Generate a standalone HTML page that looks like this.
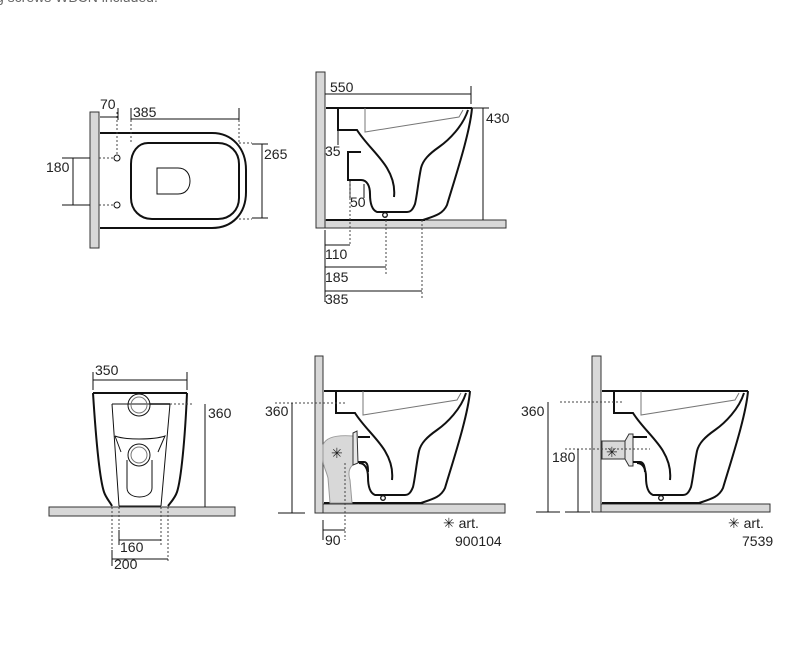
<!DOCTYPE html>
<html><head><meta charset="utf-8"><style>
html,body{margin:0;padding:0;background:#fff;width:810px;height:663px;overflow:hidden}
svg{display:block}
text{font-family:"Liberation Sans",Arial,sans-serif;font-size:14px;fill:#222}
.o{fill:none;stroke:#111;stroke-width:2}
.t{fill:none;stroke:#111;stroke-width:1}
.g{fill:none;stroke:#777;stroke-width:1}
.d{fill:none;stroke:#444;stroke-width:1;stroke-dasharray:2,2}
.w{fill:#d8d8d8;stroke:#333;stroke-width:1}
</style></head><body>
<svg width="810" height="663" viewBox="0 0 810 663" xmlns="http://www.w3.org/2000/svg">
<defs>
<g id="side">
  <path class="o" d="M1,0 H147"/>
  <path class="o" d="M147,0 C145,25 130,70 122,97 C118,106 110,108 98,112"/>
  <path class="o" d="M143,2 C138,18 124,32 114,39 C104,46 98,52 96,60 C93,75 92,88 90,96 C88,101 86,104 82,104 L52,104 C47,102 45,95 45,86 C45,78 42,72 36,72"/>
  <path class="o" d="M13,0 V22 H32 C40,35 55,48 62,60 C68,70 70,80 69,89"/>
  <path class="g" d="M40,0 V24 L134,9 L138,2"/>
  <path class="o" d="M1,112 H100"/>
  <circle cx="60" cy="107" r="2.3" fill="#fff" stroke="#111" stroke-width="1.3"/>
</g>
</defs>

<text x="-4" y="2" style="fill:#666">g screws WBCN included.</text>

<!-- Top-left plan view -->
<rect class="w" x="90" y="112" width="9" height="136"/>
<path class="o" d="M100,133 H212 C232,133 246,148 246,170 V192 C246,214 232,228 212,228 H100"/>
<path class="o" d="M148,143 H218 C230,143 239,152 239,164 V198 C239,210 230,219 218,219 H152 C140,219 131,210 131,198 V164 C131,152 138,143 148,143 Z"/>
<path class="t" d="M157,168 H178 C186,168 190,174 190,181 C190,188 186,194 178,194 H157 Z"/>
<circle cx="117" cy="158" r="3" class="t"/>
<circle cx="117" cy="205" r="3" class="t"/>
<path class="d" d="M117,112 V155 M99,158 H114 M99,205 H114 M131,112 V143 M239,120 V143 M239,143 H252 M239,219 H252"/>
<path class="t" d="M100,117 H118 M118,108 V120 M131,119 H239 M239,108 V120 M131,108 V120"/>
<text x="100" y="109">70</text><text x="133" y="117">385</text>
<path class="t" d="M262,144 V218 M252,144 H268 M252,218 H268"/>
<text x="264" y="159">265</text>
<path class="t" d="M73,158 V205 M62,158 H90 M62,205 H90"/>
<text x="46" y="172">180</text>

<!-- Top-right side view -->
<rect class="w" x="316" y="72" width="9" height="156"/>
<rect class="w" x="325" y="220" width="181" height="8"/>
<use href="#side" x="325" y="108"/>
<path class="o" d="M361,152 H348 V180 H361"/>
<path class="t" d="M325,94 H471 M471,86 V104"/>
<text x="330" y="92">550</text>
<path class="t" d="M483,108 V220 M472,108 H489"/>
<text x="486" y="123">430</text>
<path class="t" d="M338,130 V145"/>
<text x="325" y="156">35</text>
<path class="t" d="M364,184 V198 M350,180 V198"/>
<text x="350" y="207">50</text>
<path class="d" d="M350,182 V245 M386,216 V275 M422,220 V298"/>
<path class="t" d="M325,230 V302 M325,245 H350 M325,267 H386 M325,291 H422"/>
<text x="325" y="259">110</text><text x="325" y="282">185</text><text x="325" y="304">385</text>

<!-- Bottom-left front view -->
<rect class="w" x="49" y="507" width="186" height="9"/>
<path class="o" d="M93,393 H187"/>
<path class="o" d="M93,393 C96,440 100,480 104,492 C106,498 110,502 112,506 M187,393 C185,440 181,480 177,492 C175,498 171,502 168,506"/>
<path class="t" d="M112,404 H170 M112,404 L119,506 M170,404 L161,506 M119,506 H161"/>
<circle cx="139" cy="405" r="11" class="t"/><circle cx="139" cy="405" r="8" class="g"/>
<path class="t" d="M115,436 C125,440 153,440 165,436 L158,452"/>
<path class="t" d="M115,436 L121,452"/>
<circle cx="139" cy="455" r="11" class="t"/><circle cx="139" cy="455" r="8" class="g"/>
<path class="t" d="M127,460 V488 C127,500 152,500 152,488 V460"/>
<path class="o" d="M150,404 H170" style="stroke-width:1.5"/>
<path class="d" d="M170,404 H192 M112,507 V562 M119,507 V545 M161,507 V545 M168,507 V562"/>
<path class="t" d="M93,372 V390 M187,372 V390 M93,380 H187"/>
<text x="95" y="375">350</text>
<path class="t" d="M205,404 V507"/>
<text x="208" y="418">360</text>
<path class="t" d="M119,540 H161 M112,559 H168 M119,530 V545 M112,550 V566"/>
<text x="120" y="552">160</text><text x="114" y="569">200</text>

<!-- Bottom-middle side view -->
<rect class="w" x="315" y="356" width="8" height="157"/>
<rect class="w" x="323" y="504" width="182" height="9"/>
<use href="#side" x="323" y="391"/>
<path d="M323,445 C326,436 340,435 353,436 L355,463 C351,466 347,470 350,480 L352,503 H330 L328,478 C326,470 323,466 323,460 Z" fill="#d8d8d8" stroke="#999" stroke-width="1"/>
<path d="M353,433 L357,431 L358,463 L353,465 Z" fill="#e8e8e8" stroke="#333" stroke-width="1"/>
<path class="o" d="M358,437 H370 M358,462 H364 C368,462 368,468 368,472"/>
<text x="331" y="458" style="font-size:14px">✳</text>
<path class="d" d="M275,403 H347 M345,463 V540"/>
<path class="t" d="M292,403 V513 M278,513 H305"/>
<text x="265" y="416">360</text>
<path class="t" d="M323,520 V540 M323,530 H345"/>
<text x="325" y="545">90</text>
<text x="443" y="528">✳ art.</text>
<text x="455" y="546">900104</text>

<!-- Bottom-right side view -->
<rect class="w" x="592" y="356" width="9" height="156"/>
<rect class="w" x="601" y="504" width="169" height="8"/>
<use href="#side" x="601" y="391"/>
<rect x="602" y="441" width="23" height="18" fill="#d8d8d8" stroke="#333" stroke-width="1"/>
<path d="M625,441 L629,434 H633 V466 H629 L625,459 Z" fill="#e4e4e4" stroke="#333" stroke-width="1"/>
<path class="o" d="M633,437 H647 M633,462 H640 C644,462 645,468 645,472"/>
<text x="606" y="457" style="font-size:14px">✳</text>
<path class="d" d="M560,402 H624 M565,449 H650"/>
<path class="t" d="M548,402 V512 M578,449 V512 M536,512 H560 M565,512 H590"/>
<text x="521" y="416">360</text><text x="552" y="462">180</text>
<text x="728" y="528">✳ art.</text>
<text x="742" y="546">7539</text>
</svg>
</body></html>
